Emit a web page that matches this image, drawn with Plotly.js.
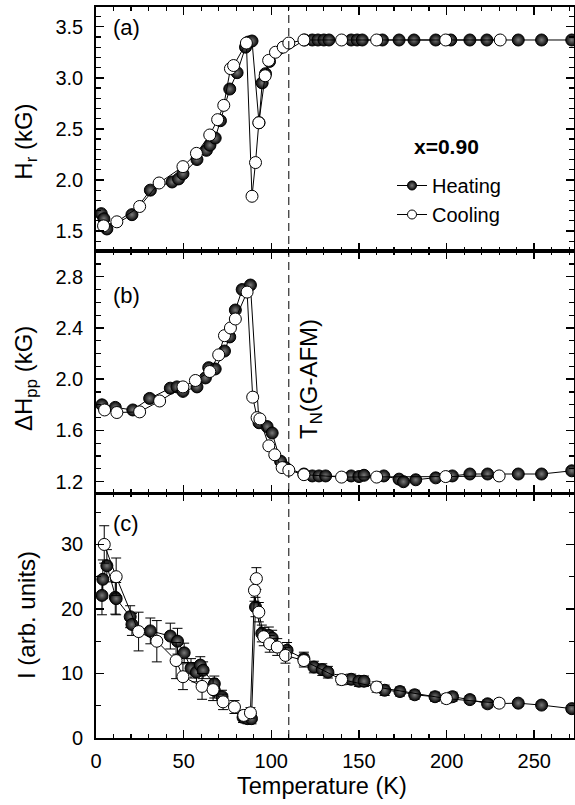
<!DOCTYPE html>
<html>
<head>
<meta charset="utf-8">
<script src="https://cdn.plot.ly/plotly-3.0.1.min.js"></script>
<style>html,body{margin:0;padding:0;background:#fff;}#chart{width:575px;height:805px;}</style>
</head>
<body>
<div id="chart"></div>
<script>
// ---- Panel (a): resonance field Hr (kG) ----
var aHeatT = [3.0, 4.5, 6.2, 20.5, 31, 43.4, 47.1, 49.6, 57.6, 63, 65, 68, 71, 76.3, 80.5, 85.3, 87, 89, 93, 94.8, 96.7, 99, 119, 123.4, 126.6, 130, 132.9, 145.6, 149, 151.9, 163.4, 172.9, 181.4, 193.8, 202.4, 213.3, 223, 240.9, 254.2, 271.4];
var aHeatH = [1.67, 1.62, 1.52, 1.66, 1.90, 1.98, 2.01, 2.06, 2.20, 2.29, 2.34, 2.41, 2.58, 2.89, 3.05, 3.30, 3.35, 3.36, 2.56, 2.95, 3.04, 3.16, 3.37, 3.37, 3.37, 3.37, 3.37, 3.37, 3.37, 3.37, 3.37, 3.37, 3.37, 3.37, 3.37, 3.37, 3.37, 3.37, 3.37, 3.37];
var aCoolT = [4.3, 11.9, 24.9, 36, 49.6, 57.3, 64.9, 69.4, 72.9, 76.7, 78.5, 85.8, 89, 91, 92.9, 96.5, 98.5, 102.4, 106.8, 110, 118.6, 140.1, 160.1, 199.5, 230.6];
var aCoolH = [1.55, 1.59, 1.74, 1.97, 2.13, 2.26, 2.44, 2.59, 2.73, 3.09, 3.12, 3.34, 1.84, 2.17, 2.56, 3.02, 3.17, 3.25, 3.30, 3.34, 3.37, 3.37, 3.37, 3.37, 3.37];

// ---- Panel (b): linewidth dHpp (kG) ----
var bHeatT = [3.4, 11, 21, 30.6, 42.4, 46.2, 49.6, 57.6, 62.4, 64.3, 68, 73.3, 76.3, 79.5, 83.4, 88.1, 93, 97.6, 100.5, 105.3, 108, 118.6, 123.4, 127.2, 131, 145.6, 150, 152.9, 164.2, 172.9, 175.4, 182.4, 193.8, 203.3, 213.3, 223.4, 240.9, 254.2, 271.4];
var bHeatW = [1.80, 1.78, 1.76, 1.85, 1.93, 1.94, 1.905, 1.94, 2.01, 2.09, 2.08, 2.22, 2.33, 2.54, 2.70, 2.735, 1.66, 1.63, 1.58, 1.36, 1.31, 1.26, 1.245, 1.245, 1.245, 1.245, 1.24, 1.25, 1.245, 1.22, 1.20, 1.215, 1.23, 1.245, 1.26, 1.26, 1.26, 1.26, 1.285];
var bCoolT = [4.9, 11.9, 24.9, 36.3, 49.6, 56.7, 64.9, 70, 73.3, 76.7, 79.5, 86.2, 89.4, 91.9, 93.5, 98.6, 102, 106.2, 110, 118.6, 140.1, 160.1, 199.5, 230];
var bCoolW = [1.76, 1.74, 1.745, 1.83, 1.94, 1.99, 2.06, 2.19, 2.34, 2.40, 2.47, 2.68, 1.86, 1.70, 1.69, 1.48, 1.41, 1.31, 1.29, 1.255, 1.236, 1.236, 1.24, 1.245];

// ---- Panel (c): intensity I (arb. units) with error bars ----
var cHeatT = [3.4, 3.9, 6.2, 11, 11.5, 19.5, 20.5, 31, 42.4, 46.5, 50.3, 54.2, 57.3, 59.5, 61.1, 67.5, 67.5, 71.9, 83.9, 86.5, 88.7, 91, 94.6, 98.6, 100.5, 109, 118.6, 124.3, 129.1, 132.3, 145.6, 150, 152.9, 164.7, 173.4, 181.8, 193.4, 203.4, 213.3, 223.4, 240.9, 254.2, 271.4];
var cHeatI = [22.1, 24.6, 26.7, 21.8, 21.6, 18.8, 17.6, 16.6, 15.8, 15.0, 13.2, 10.8, 10.2, 11.3, 10.5, 8.4, 7.4, 6.4, 3.2, 3.0, 3.0, 20.3, 16.2, 15.9, 15.5, 13.6, 12.3, 11.0, 10.6, 10.2, 9.1, 8.8, 8.8, 7.4, 7.2, 6.7, 6.4, 6.4, 5.95, 5.3, 5.4, 5.1, 4.55];
var cHeatE = [3.0, 3.0, 2.5, 2.6, 2.5, 1.7, 1.7, 2.0, 2.0, 2.0, 1.5, 1.5, 1.5, 1.3, 1.3, 1.2, 1.2, 1.0, 0.8, 0.8, 0.8, 1.5, 1.3, 1.3, 1.2, 1.2, 1.0, 0.9, 0.9, 0.9, 0.8, 0.8, 0.8, 0.8, 0.7, 0.7, 0.7, 0.7, 0.6, 0.6, 0.5, 0.5, 0.5];
var cCoolT = [4.7, 11.5, 24.3, 34.7, 45.7, 49.6, 60.5, 66.8, 72.5, 79, 84.3, 88.1, 90.4, 91.5, 92.9, 95.7, 99.1, 103.4, 108.1, 118.6, 140.1, 160.1, 199.9, 230];
var cCoolI = [30.0, 25.0, 16.5, 15.0, 12.0, 9.5, 8.0, 7.5, 5.6, 4.8, 3.5, 3.9, 22.9, 24.7, 19.5, 15.7, 14.6, 14.1, 12.8, 12.0, 9.05, 7.9, 6.1, 5.4];
var cCoolE = [2.9, 2.9, 3.0, 3.2, 2.8, 2.0, 2.0, 1.7, 1.2, 1.0, 0.8, 0.8, 1.7, 1.7, 1.5, 1.4, 1.3, 1.3, 1.2, 1.0, 0.8, 0.8, 0.7, 0.6];

var xTickVals = [0, 50, 100, 150, 200, 250];
var seriesNames = ['Heating', 'Cooling'];
var TN = 110;

var FONT = 'Liberation Sans, Arial, Helvetica, sans-serif';
var heatMarker = {symbol: 'circle', size: 12, color: '#080808', gradient: {type: 'radial', color: '#7a7a7a'}, line: {color: '#000', width: 1}};
var coolMarker = {symbol: 'circle', size: 12, color: '#ffffff', line: {color: '#000', width: 1}};
var lineStyle = {color: '#000', width: 1};

function tr(x, y, ax, ay, marker, err) {
  var t = {x: x, y: y, xaxis: ax, yaxis: ay, type: 'scatter', mode: 'lines+markers',
    line: lineStyle, marker: marker, showlegend: false, hoverinfo: 'skip', cliponaxis: true};
  if (err) t.error_y = {type: 'data', array: err, visible: true, color: '#000', thickness: 1, width: 5};
  return t;
}

var data = [
  tr(aHeatT, aHeatH, 'x3', 'y3', heatMarker),
  tr(aCoolT, aCoolH, 'x3', 'y3', coolMarker),
  tr(bHeatT, bHeatW, 'x2', 'y2', heatMarker),
  tr(bCoolT, bCoolW, 'x2', 'y2', coolMarker),
  tr(cHeatT, cHeatI, 'x', 'y', heatMarker, cHeatE),
  tr(cCoolT, cCoolI, 'x', 'y', coolMarker, cCoolE),
  // legend entries
  {x: [null], y: [null], xaxis: 'x3', yaxis: 'y3', type: 'scatter', mode: 'lines+markers', name: seriesNames[0],
   line: lineStyle, marker: {symbol: 'circle', size: 9, color: '#080808', gradient: {type: 'radial', color: '#7a7a7a'}, line: {color: '#000', width: 1}}, showlegend: true},
  {x: [null], y: [null], xaxis: 'x3', yaxis: 'y3', type: 'scatter', mode: 'lines+markers', name: seriesNames[1],
   line: lineStyle, marker: {symbol: 'circle', size: 9, color: '#fff', line: {color: '#000', width: 1}}, showlegend: true}
];

var XMAX = 272.7;
function xax(anchor, labels) {
  return {domain: [0, 1], anchor: anchor, range: [0, XMAX], tickvals: xTickVals, ticktext: xTickVals.map(String),
    ticks: 'inside', ticklen: 8, tickwidth: 1.5, tickcolor: '#000', showline: true, linewidth: 1.8, linecolor: '#000',
    mirror: 'allticks', showgrid: false, zeroline: false, showticklabels: labels,
    tickfont: {family: FONT, size: 20, color: '#000'}, ticklabelstandoff: 4,
    minor: {dtick: 10, tick0: 0, ticks: 'inside', ticklen: 4, tickwidth: 1.2, tickcolor: '#000', showgrid: false}};
}
function yax(domain, range, dtick, tick0, mdtick, fmt) {
  return {domain: domain, range: range, dtick: dtick, tick0: tick0, tickformat: fmt,
    ticks: 'inside', ticklen: 8, tickwidth: 1.5, tickcolor: '#000', showline: true, linewidth: 1.8, linecolor: '#000',
    mirror: 'allticks', showgrid: false, zeroline: false,
    tickfont: {family: FONT, size: 20, color: '#000'}, ticklabelstandoff: 7,
    minor: {dtick: mdtick, tick0: tick0, ticks: 'inside', ticklen: 5, tickwidth: 1.2, tickcolor: '#000', showgrid: false}};
}
var ya = yax([0, 0.3345], [0, 37.9], 10, 0, 5, 'd'); ya.anchor = 'x';
var yb = yax([0.3345, 0.6666], [1.108, 3.003], 0.4, 1.2, 0.1, '.1f'); yb.anchor = 'x2';
var yc = yax([0.6666, 1], [1.307, 3.693], 0.5, 1.5, 0.1, '.1f'); yc.anchor = 'x3';

var txt = function (t, x, y, size, extra) {
  var a = {text: t, xref: 'paper', yref: 'paper', x: x, y: y, showarrow: false, xanchor: 'center', yanchor: 'middle',
    font: {family: FONT, size: size, color: '#000'}};
  for (var k in extra) a[k] = extra[k];
  return a;
};
var PX = function (px) { return (px - 96) / 478; };
var PY = function (py) { return (738 - py) / 731; };

var layout = {
  width: 575, height: 805,
  margin: {l: 96, r: 1, t: 7, b: 67, pad: 0},
  paper_bgcolor: '#fff', plot_bgcolor: '#fff',
  showlegend: true,
  legend: {x: PX(392), y: PY(166), xanchor: 'left', yanchor: 'top', bgcolor: 'rgba(0,0,0,0)', borderwidth: 0,
    font: {family: FONT, size: 20, color: '#000'}, tracegroupgap: 0},
  xaxis: xax('y', true), xaxis2: xax('y2', false), xaxis3: xax('y3', false),
  yaxis: ya, yaxis2: yb, yaxis3: yc,
  shapes: [{type: 'line', xref: 'x', yref: 'paper', x0: TN, x1: TN, y0: 0, y1: 1,
    line: {color: '#000', width: 1, dash: '8px,5px'}, layer: 'above'}],
  annotations: [
    txt('Temperature (K)', PX(321.5), PY(786), 23.5),
    txt('H<sub>r</sub> (kG)', PX(26), PY(141.7), 24, {textangle: -90}),
    txt('ΔH<sub>pp</sub> (kG)', PX(26), PY(379), 24, {textangle: -90}),
    txt('I (arb. units)', PX(26), PY(615), 24, {textangle: -90}),
    txt('(a)', PX(126), PY(28), 22),
    txt('(b)', PX(126.7), PY(295), 22),
    txt('(c)', PX(126), PY(523), 22),
    txt('<b>x=0.90</b>', PX(446.7), PY(146), 21),
    txt('T<sub>N</sub>(G-AFM)', PX(311), PY(379), 24, {textangle: -90})
  ]
};

Plotly.newPlot('chart', data, layout, {staticPlot: true, displayModeBar: false});
</script>
</body>
</html>
